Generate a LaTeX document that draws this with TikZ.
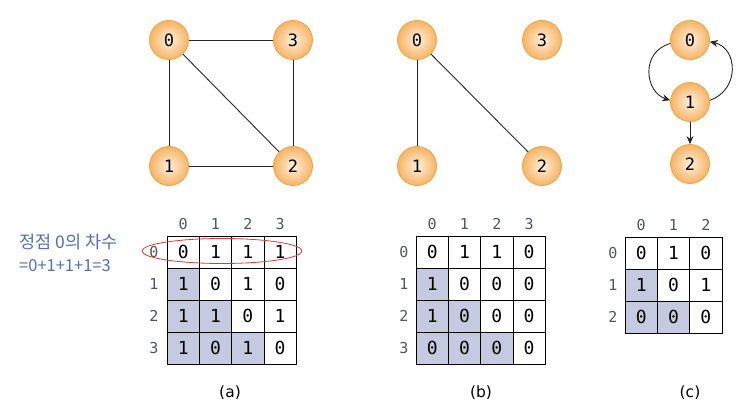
\documentclass[tikz,border=0pt]{standalone}
\usepackage{fontspec}
\setmainfont{DejaVu Sans}
\newfontfamily\monof{DejaVu Sans Mono}
\newfontfamily\kor{Noto Sans CJK KR}
\usetikzlibrary{arrows.meta}
\definecolor{vin}{HTML}{FEF0DC}
\definecolor{vout}{HTML}{F7B466}
\definecolor{vdraw}{HTML}{F0A43C}
\definecolor{shadecell}{HTML}{C5CAE0}
\definecolor{hdr}{HTML}{505560}
\definecolor{kblue}{HTML}{5270B8}
\definecolor{ered}{HTML}{D83A3A}
\tikzset{
  vtx/.style={circle, minimum size=39pt, inner sep=0pt, draw=vdraw, line width=0.8pt,
    inner color=vin, outer color=vout, font=\monof\fontsize{17}{17}\selectfont},
  edge/.style={line width=0.9pt, draw=black!85},
  darc/.style={line width=0.9pt, draw=black!85, -{Stealth[length=8pt,width=7pt]}},
  plcell/.style={draw=black, line width=0.9pt, minimum size=32.3pt, inner sep=0pt, fill=white,
    font=\monof\fontsize{18}{18}\selectfont},
  shcell/.style={plcell, fill=shadecell},
  hd/.style={inner sep=0pt, text=hdr, font=\monof\fontsize{15}{15}\selectfont},
  capt/.style={inner sep=0pt, font=\fontsize{15.5}{15.5}\selectfont}
}
\begin{document}
\begin{tikzpicture}[x=1pt,y=-1pt]
\useasboundingbox (0,0) rectangle (752,417);
% ---------- graph (a)
\node[vtx] (a0) at (169,40) {0};
\node[vtx] (a3) at (293,40) {3};
\node[vtx] (a1) at (169,166) {1};
\node[vtx] (a2) at (293,166) {2};
\draw[edge] (a0) -- (a3);
\draw[edge] (a0) -- (a1);
\draw[edge] (a0) -- (a2);
\draw[edge] (a3) -- (a2);
\draw[edge] (a1) -- (a2);
% ---------- graph (b)
\node[vtx] (b0) at (417,40) {0};
\node[vtx] (b3) at (542,40) {3};
\node[vtx] (b1) at (417,166) {1};
\node[vtx] (b2) at (542,166) {2};
\draw[edge] (b0) -- (b1);
\draw[edge] (b0) -- (b2);
% ---------- graph (c)
\node[vtx] (c0) at (690,40) {0};
\node[vtx] (c1) at (690,102) {1};
\node[vtx] (c2) at (690,164) {2};
\draw[darc] (c0.190) .. controls (640,52) and (645,92) .. (c1.175);
\draw[darc] (c1.5) .. controls (740,90) and (738,48) .. (c0.-5);
\draw[darc] (c1) -- (c2);
% ---------- matrix (a)
\foreach \r/\row in {0/{0,1,1,1},1/{1,0,1,0},2/{1,1,0,1},3/{1,0,1,0}} {
  \foreach \v [count=\c from 0] in \row {
    \pgfmathtruncatemacro{\sh}{\c<\r ? 1 : 0}
    \ifnum\sh=1
      \node[shcell] (ma-\r-\c) at ({183.2+\c*32.3},{252.2+\r*32}) {\v};
    \else
      \node[plcell] (ma-\r-\c) at ({183.2+\c*32.3},{252.2+\r*32}) {\v};
    \fi
  }
  \node[hd] (mar-\r) at (154,{252.2+\r*32}) {\r};
  \node[hd] (mac-\r) at ({183.2+\r*32.3},224) {\r};
}
\draw[ered, line width=0.8pt] (222,251) ellipse [x radius=80, y radius=12.5];
\node[inner sep=0pt, anchor=west, text=kblue, font=\kor\fontsize{17.5}{17.5}\selectfont] (kt1) at (19,242) {정점 0의 차수};
\node[inner sep=0pt, anchor=west, text=kblue, font=\kor\fontsize{16.5}{16.5}\selectfont] (kt2) at (19,266) {=0+1+1+1=3};
\node[capt] (capa) at (230,393) {(a)};
% ---------- matrix (b)
\foreach \r/\row in {0/{0,1,1,0},1/{1,0,0,0},2/{1,0,0,0},3/{0,0,0,0}} {
  \foreach \v [count=\c from 0] in \row {
    \pgfmathtruncatemacro{\sh}{\c<\r ? 1 : 0}
    \ifnum\sh=1
      \node[shcell] (mb-\r-\c) at ({432.2+\c*32.3},{252.2+\r*32}) {\v};
    \else
      \node[plcell] (mb-\r-\c) at ({432.2+\c*32.3},{252.2+\r*32}) {\v};
    \fi
  }
  \node[hd] (mbr-\r) at (404,{252.2+\r*32}) {\r};
  \node[hd] (mbc-\r) at ({432.2+\r*32.3},224) {\r};
}
\node[capt] (capb) at (481,393) {(b)};
% ---------- matrix (c)
\foreach \r/\row in {0/{0,1,0},1/{1,0,1},2/{0,0,0}} {
  \foreach \v [count=\c from 0] in \row {
    \pgfmathtruncatemacro{\sh}{\c<\r ? 1 : 0}
    \ifnum\sh=1
      \node[shcell] (mc-\r-\c) at ({641.2+\c*32.3},{253.2+\r*32}) {\v};
    \else
      \node[plcell] (mc-\r-\c) at ({641.2+\c*32.3},{253.2+\r*32}) {\v};
    \fi
  }
  \node[hd] (mcr-\r) at (613,{253.2+\r*32}) {\r};
  \node[hd] (mcc-\r) at ({641.2+\r*32.3},225) {\r};
}
\node[capt] (capc) at (690,393) {(c)};
\end{tikzpicture}
\end{document}
